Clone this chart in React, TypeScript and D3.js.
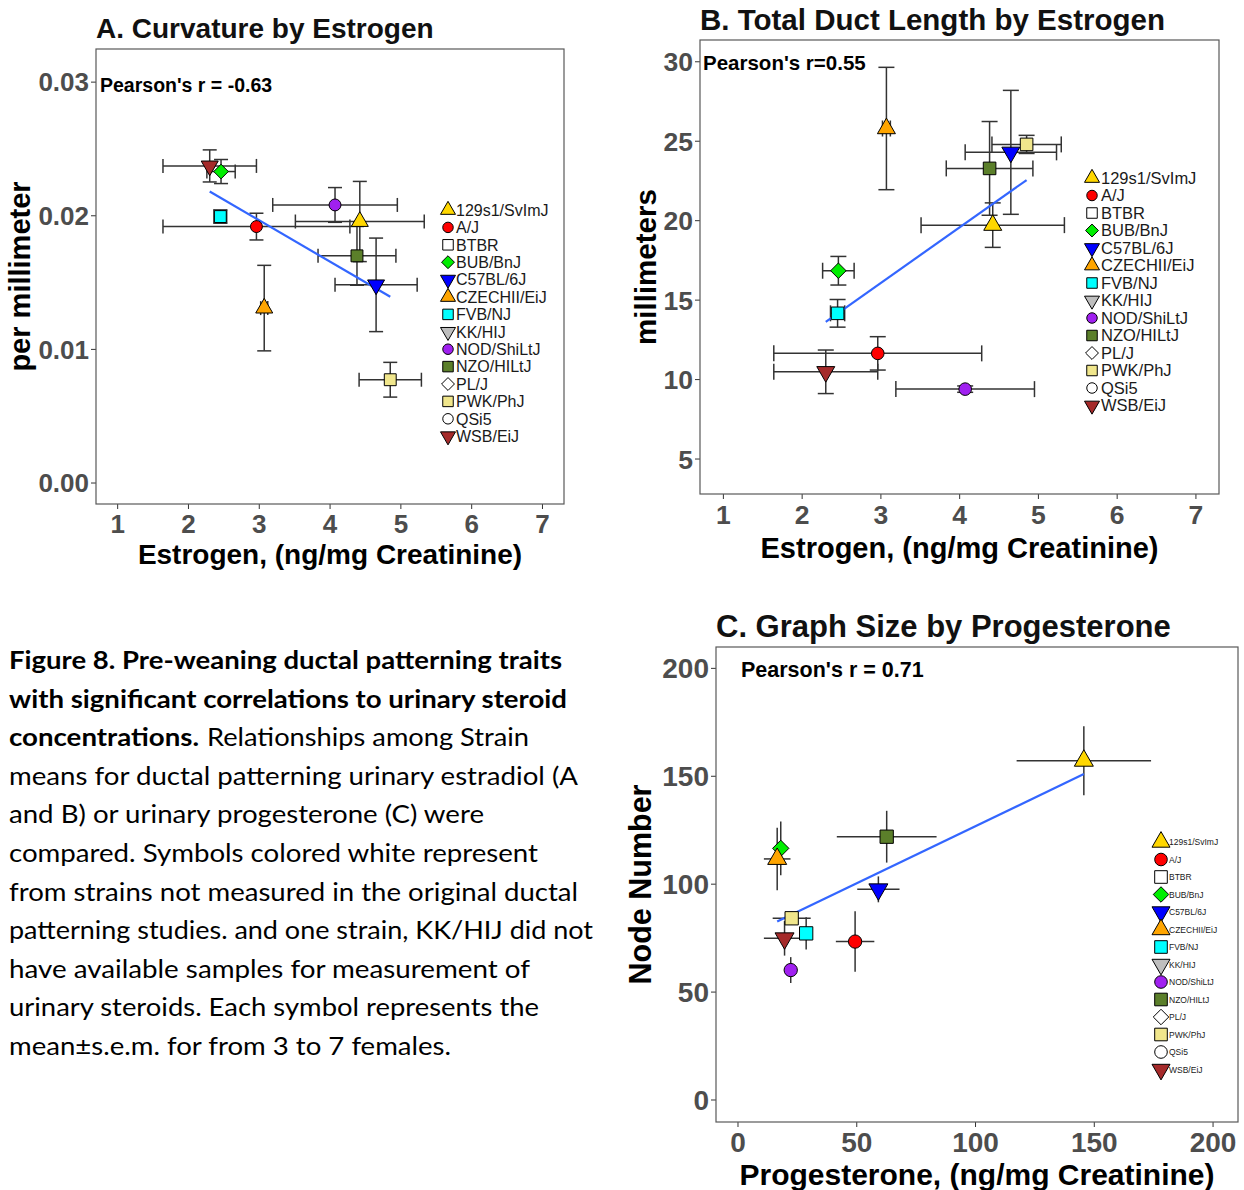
import { useRef, useEffect } from "react";
import * as d3 from "d3";

// legend order (all strains)
const strains = [
  "129s1/SvImJ", "A/J", "BTBR", "BUB/BnJ", "C57BL/6J", "CZECHII/EiJ", "FVB/NJ",
  "KK/HIJ", "NOD/ShiLtJ", "NZO/HILtJ", "PL/J", "PWK/PhJ", "QSi5", "WSB/EiJ",
];
const shapes = [
  "up", "circle", "square", "diamond", "down", "up", "square",
  "down", "circle", "square", "diamond", "square", "circle", "down",
];
const fills = [
  "#FFD700", "#FF0000", "#FFFFFF", "#00EE00", "#0000FF", "#FFA500", "#00FFFF",
  "#BEBEBE", "#A020F0", "#5B7F2A", "#FFFFFF", "#F0E68C", "#FFFFFF", "#A52A2A",
];

// strains with steroid measurements
const measured = [
  "129s1/SvImJ", "A/J", "BUB/BnJ", "C57BL/6J", "CZECHII/EiJ",
  "FVB/NJ", "NOD/ShiLtJ", "NZO/HILtJ", "PWK/PhJ", "WSB/EiJ",
];
const estrogenMean = [4.42, 2.96, 2.46, 4.65, 3.07, 2.45, 4.07, 4.38, 4.85, 2.3];
const estrogenSem = [0.91, 1.32, 0.2, 0.58, 0.05, 0.09, 0.88, 0.55, 0.44, 0.66];
const curvatureMean = [0.01957, 0.01919, 0.02331, 0.01483, 0.01309, 0.01994, 0.02081, 0.017, 0.00773, 0.02373];
const curvatureSem = [0.003, 0.001, 0.0009, 0.0035, 0.0032, 0.0005, 0.0013, 0.0022, 0.0013, 0.0012];
const ductMean = [19.72, 11.65, 16.85, 24.3, 25.8, 14.17, 9.4, 23.29, 24.8, 10.49];
const ductSem = [1.4, 1.05, 0.9, 3.9, 3.85, 0.87, 0.2, 2.95, 0.57, 1.37];
const progMean = [145.6, 49.3, 18.0, 59.1, 16.5, 28.7, 22.2, 62.6, 22.6, 19.6];
const progSem = [28.3, 8.1, 1.5, 8.9, 5.6, 1.5, 1.5, 21.0, 8.0, 8.7];
const nodeMean = [157.2, 73.4, 116.6, 97.6, 111.7, 77.2, 60.2, 122, 84.2, 74.9];
const nodeSem = [16, 14, 12.5, 6, 14.5, 7.5, 6, 12, 3, 8];

const estrogenTicks = [1, 2, 3, 4, 5, 6, 7];
const curvatureTicks = [0, 0.01, 0.02, 0.03];
const ductTicks = [5, 10, 15, 20, 25, 30];
const progTicks = [0, 50, 100, 150, 200];
const nodeTicks = [0, 50, 100, 150, 200];

const captionLines = [
  [["Figure 8. Pre-weaning ductal patterning traits", true, 9, 562]],
  [["with significant correlations to urinary steroid", true, 9, 567]],
  [["concentrations.", true, 9, 199], ["Relationships among Strain", false, 207, 529]],
  [["means for ductal patterning urinary estradiol (A", false, 9, 578]],
  [["and B) or urinary progesterone (C) were", false, 9, 484]],
  [["compared. Symbols colored white represent", false, 9, 538]],
  [["from strains not measured in the original ductal", false, 9, 578]],
  [["patterning studies. and one strain, KK/HIJ did not", false, 9, 593]],
  [["have available samples for measurement of", false, 9, 530]],
  [["urinary steroids. Each symbol represents the", false, 9, 539]],
  [["mean\u00b1s.e.m. for from 3 to 7 females.", false, 9, 451]],
];

const FONT = "'Liberation Sans', Arial, sans-serif";

function symbolPath(shape, w) {
  const p = d3.path();
  const h = w * 0.866;
  if (shape === "up") {
    p.moveTo(0, (-2 * h) / 3);
    p.lineTo(w / 2, h / 3);
    p.lineTo(-w / 2, h / 3);
    p.closePath();
  } else if (shape === "down") {
    p.moveTo(0, (2 * h) / 3);
    p.lineTo(w / 2, -h / 3);
    p.lineTo(-w / 2, -h / 3);
    p.closePath();
  } else if (shape === "square") {
    const s = w * 0.35;
    p.rect(-s, -s, 2 * s, 2 * s);
  } else if (shape === "diamond") {
    const s = w * 0.43;
    p.moveTo(0, -s);
    p.lineTo(s, 0);
    p.lineTo(0, s);
    p.lineTo(-s, 0);
    p.closePath();
  } else {
    p.arc(0, 0, w * 0.35, 0, 2 * Math.PI);
  }
  return p.toString();
}

function fitLine(xs, ys) {
  const mx = d3.mean(xs);
  const my = d3.mean(ys);
  const sxy = d3.sum(xs, (x, i) => (x - mx) * (ys[i] - my));
  const sxx = d3.sum(xs, (x) => (x - mx) ** 2);
  const b = sxy / sxx;
  const a = my - b * mx;
  const [x0, x1] = d3.extent(xs);
  return [[x0, a + b * x0], [x1, a + b * x1]];
}

function drawPanel(svg, c) {
  const g = svg.append("g");
  const x = d3.scaleLinear().domain(c.xDomain).range([c.box[0], c.box[2]]);
  const y = d3.scaleLinear().domain(c.yDomain).range([c.box[3], c.box[1]]);

  g.append("text")
    .attr("x", c.box[0]).attr("y", c.titleY)
    .attr("font-family", FONT).attr("font-weight", "bold")
    .attr("font-size", c.titleSize).attr("fill", "#111")
    .text(c.title);

  // x axis
  c.xTicks.forEach((t) => {
    g.append("line")
      .attr("x1", x(t)).attr("x2", x(t))
      .attr("y1", c.box[3]).attr("y2", c.box[3] + 5)
      .attr("stroke", "#333").attr("stroke-width", 1);
    g.append("text")
      .attr("x", x(t)).attr("y", c.xLabelY)
      .attr("text-anchor", "middle")
      .attr("font-family", FONT).attr("font-weight", "bold")
      .attr("font-size", c.tickSize).attr("fill", "#4D4D4D")
      .text(c.xFmt(t));
  });
  // y axis
  c.yTicks.forEach((t) => {
    g.append("line")
      .attr("x1", c.box[0] - 5).attr("x2", c.box[0])
      .attr("y1", y(t)).attr("y2", y(t))
      .attr("stroke", "#333").attr("stroke-width", 1);
    g.append("text")
      .attr("x", c.box[0] - 7).attr("y", y(t))
      .attr("dy", "0.36em")
      .attr("text-anchor", "end")
      .attr("font-family", FONT).attr("font-weight", "bold")
      .attr("font-size", c.tickSize).attr("fill", "#4D4D4D")
      .text(c.yFmt(t));
  });

  g.append("text")
    .attr("x", (c.box[0] + c.box[2]) / 2).attr("y", c.xTitleY)
    .attr("text-anchor", "middle")
    .attr("font-family", FONT).attr("font-weight", "bold")
    .attr("font-size", c.xTitleSize).attr("fill", "#000")
    .text(c.xTitle);
  g.append("text")
    .attr("transform", `translate(${c.yTitleX},${(c.box[1] + c.box[3]) / 2}) rotate(-90)`)
    .attr("text-anchor", "middle")
    .attr("font-family", FONT).attr("font-weight", "bold")
    .attr("font-size", c.yTitleSize).attr("fill", "#000")
    .text(c.yTitle);

  // panel border
  g.append("rect")
    .attr("x", c.box[0]).attr("y", c.box[1])
    .attr("width", c.box[2] - c.box[0]).attr("height", c.box[3] - c.box[1])
    .attr("fill", "none").attr("stroke", "#595959").attr("stroke-width", 1.2);

  g.append("text")
    .attr("x", c.rX).attr("y", c.rY)
    .attr("font-family", FONT).attr("font-weight", "bold")
    .attr("font-size", c.rSize).attr("fill", "#000")
    .text(c.rText);

  // error bars
  const eb = g.append("g").attr("stroke", "#333").attr("stroke-width", 1.5).attr("fill", "none");
  c.xs.forEach((xv, i) => {
    const yv = c.ys[i];
    const cx = x(xv), cy = y(yv);
    const ya = y(yv - c.ySem[i]), yb = y(yv + c.ySem[i]);
    const xa = x(xv - c.xSem[i]), xb = x(xv + c.xSem[i]);
    eb.append("line").attr("x1", cx).attr("x2", cx).attr("y1", ya).attr("y2", yb);
    eb.append("line").attr("x1", xa).attr("x2", xb).attr("y1", cy).attr("y2", cy);
    if (c.cap > 0) {
      const h = c.cap / 2;
      [ya, yb].forEach((v) => eb.append("line").attr("x1", cx - h).attr("x2", cx + h).attr("y1", v).attr("y2", v));
      [xa, xb].forEach((v) => eb.append("line").attr("x1", v).attr("x2", v).attr("y1", cy - h).attr("y2", cy + h));
    }
  });

  // regression line
  const fit = fitLine(c.xs, c.ys);
  g.append("path")
    .attr("d", d3.line().x((d) => x(d[0])).y((d) => y(d[1]))(fit))
    .attr("stroke", "#3366FF").attr("stroke-width", 2.2).attr("fill", "none");

  // points
  c.xs.forEach((xv, i) => {
    const k = strains.indexOf(measured[i]);
    g.append("path")
      .attr("d", symbolPath(shapes[k], c.markW))
      .attr("transform", `translate(${x(xv)},${y(c.ys[i])})`)
      .attr("fill", fills[k]).attr("stroke", "#000").attr("stroke-width", 1);
  });

  // legend
  strains.forEach((s, k) => {
    const ly = c.legY + k * c.legStep;
    g.append("path")
      .attr("d", symbolPath(shapes[k], c.legMarkW))
      .attr("transform", `translate(${c.legX},${ly})`)
      .attr("fill", fills[k]).attr("stroke", "#000").attr("stroke-width", 1);
    g.append("text")
      .attr("x", c.legTextX).attr("y", ly).attr("dy", "0.36em")
      .attr("font-family", FONT).attr("font-size", c.legSize).attr("fill", "#1a1a1a")
      .text(s);
  });
}

export default function App() {
  const ref = useRef(null);

  useEffect(() => {
    const svg = d3.select(ref.current);
    svg.selectAll("*").remove();

    drawPanel(svg, {
      title: "A. Curvature by Estrogen", titleY: 38, titleSize: 28,
      box: [96, 49, 564, 504],
      xDomain: [0.694, 7.304], yDomain: [-0.00157, 0.03248],
      xTicks: estrogenTicks, yTicks: curvatureTicks,
      xFmt: d3.format("d"), yFmt: d3.format(".2f"),
      tickSize: 26, xLabelY: 533,
      xTitle: "Estrogen, (ng/mg Creatinine)", xTitleY: 564, xTitleSize: 28,
      yTitle: "per millimeter", yTitleX: 30, yTitleSize: 29,
      rText: "Pearson's r = -0.63", rX: 100, rY: 92, rSize: 19.5,
      xs: estrogenMean, xSem: estrogenSem, ys: curvatureMean, ySem: curvatureSem,
      cap: 14, markW: 17,
      legX: 448, legTextX: 456, legY: 210, legStep: 17.4, legSize: 16, legMarkW: 15,
    });

    drawPanel(svg, {
      title: "B. Total Duct Length by Estrogen", titleY: 30, titleSize: 29.5,
      box: [700, 40, 1219, 494],
      xDomain: [0.703, 7.293], yDomain: [2.8, 31.37],
      xTicks: estrogenTicks, yTicks: ductTicks,
      xFmt: d3.format("d"), yFmt: d3.format("d"),
      tickSize: 26.5, xLabelY: 524,
      xTitle: "Estrogen, (ng/mg Creatinine)", xTitleY: 558, xTitleSize: 29,
      yTitle: "millimeters", yTitleX: 656, yTitleSize: 29.5,
      rText: "Pearson's r=0.55", rX: 703, rY: 70, rSize: 20.5,
      xs: estrogenMean, xSem: estrogenSem, ys: ductMean, ySem: ductSem,
      cap: 16, markW: 18,
      legX: 1092, legTextX: 1101, legY: 178, legStep: 17.5, legSize: 16.5, legMarkW: 15,
    });

    drawPanel(svg, {
      title: "C. Graph Size by Progesterone", titleY: 637, titleSize: 31,
      box: [716, 647, 1238, 1122],
      xDomain: [-9.26, 210.5], yDomain: [-10.2, 209.9],
      xTicks: progTicks, yTicks: nodeTicks,
      xFmt: d3.format("d"), yFmt: d3.format("d"),
      tickSize: 28, xLabelY: 1152,
      xTitle: "Progesterone, (ng/mg Creatinine)", xTitleY: 1185, xTitleSize: 30,
      yTitle: "Node Number", yTitleX: 651, yTitleSize: 30.5,
      rText: "Pearson's r = 0.71", rX: 741, rY: 677, rSize: 21.5,
      xs: progMean, xSem: progSem, ys: nodeMean, ySem: nodeSem,
      cap: 0, markW: 19,
      legX: 1161, legTextX: 1169, legY: 842, legStep: 17.5, legSize: 8.5, legMarkW: 18,
    });

    // caption
    const cap = svg.append("g");
    captionLines.forEach((segs, li) => {
      segs.forEach(([t, bold, x0, x1]) => {
        cap.append("text")
          .attr("x", x0).attr("y", 669 + li * 38.6)
          .attr("textLength", x1 - x0).attr("lengthAdjust", "spacingAndGlyphs")
          .attr("font-family", "Lato, 'Open Sans', sans-serif")
          .attr("font-weight", bold ? "bold" : "normal")
          .attr("font-size", 25).attr("fill", "#000")
          .text(t);
      });
    });
  }, []);

  return (
    <svg
      ref={ref}
      width={1244}
      height={1190}
      style={{ position: "absolute", left: 0, top: 0, background: "#fff" }}
    />
  );
}
